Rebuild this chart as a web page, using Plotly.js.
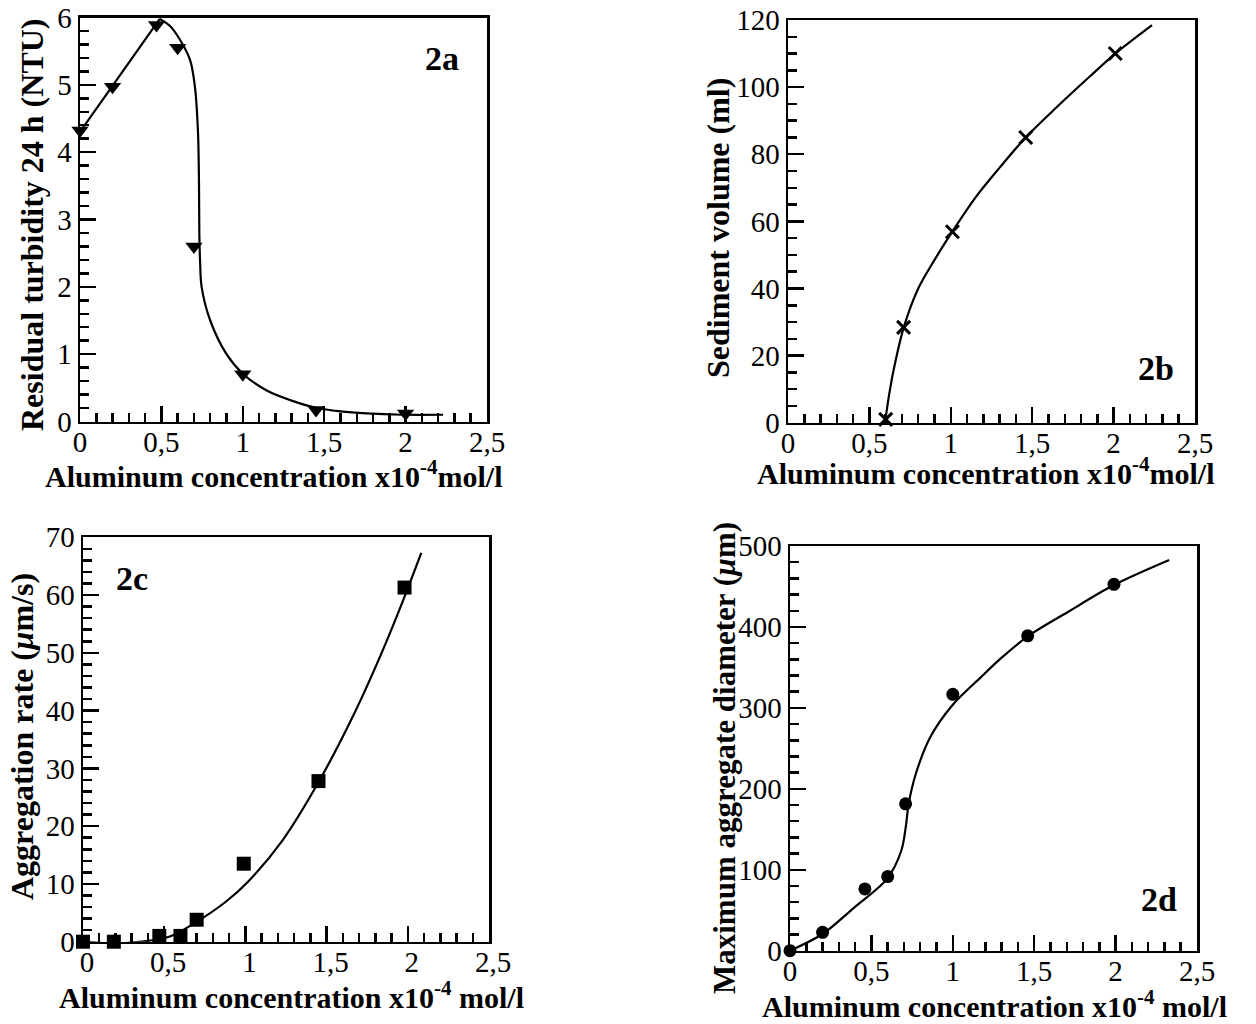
<!DOCTYPE html>
<html>
<head>
<meta charset="utf-8">
<script src="https://cdn.plot.ly/plotly-3.0.1.min.js"></script>
<style>
  html, body { margin: 0; padding: 0; background: #ffffff; }
  #chart { width: 1256px; height: 1024px; }
</style>
</head>
<body>
<div id="chart"></div>
<script>
// ---------- Data ----------
// Panel 2a: residual turbidity 24 h (NTU)
const a_x = [0, 0.2, 0.47, 0.6, 0.7, 1.0, 1.45, 2.0];
const a_y = [4.32, 4.97, 5.89, 5.55, 2.6, 0.7, 0.17, 0.12];
const a_line_x = [0, 0.49];
const a_line_y = [4.3, 5.98];
const a_curve_x = [0.49, 0.55, 0.614, 0.676, 0.706, 0.725, 0.731, 0.733, 0.738, 0.747, 0.8, 0.9, 1.0, 1.147, 1.3, 1.454, 1.6, 1.76, 1.98, 2.23];
const a_curve_y = [5.98, 5.88, 5.67, 5.37, 4.97, 4.28, 3.5, 2.79, 2.35, 2.0, 1.5, 1.0, 0.71, 0.46, 0.31, 0.2, 0.15, 0.12, 0.1, 0.1];

// Panel 2b: sediment volume (ml)
const b_x = [0.6, 0.71, 1.01, 1.46, 2.01];
const b_y = [1, 28.4, 56.9, 85, 110];
const b_curve_x = [0.596, 0.62, 0.65, 0.711, 0.8, 0.9, 1.01, 1.15, 1.3, 1.46, 1.65, 1.85, 2.01, 2.236];
const b_curve_y = [0, 8, 16, 28.4, 40, 48.5, 57, 67, 76, 85, 94, 103, 110, 118.5];

// Panel 2c: aggregation rate (µm/s)
const c_x = [0, 0.19, 0.47, 0.6, 0.7, 0.99, 1.45, 1.98];
const c_y = [0, 0, 1.0, 1.0, 3.8, 13.5, 27.8, 61.3];
const c_curve_x = [0, 0.19, 0.36, 0.535, 0.698, 0.883, 1.013, 1.23, 1.448, 1.665, 1.839, 1.97, 2.083];
const c_curve_y = [0, -0.3, 0, 0.9, 3.4, 7.0, 10.3, 17.6, 27.5, 39.2, 50, 59, 67.3];

// Panel 2d: maximum aggregate diameter (µm)
const d_x = [0, 0.2, 0.46, 0.6, 0.71, 1.0, 1.46, 1.99];
const d_y = [0, 22.7, 76.3, 91.6, 181.5, 316.8, 389, 452.6];
const d_curve_x = [0, 0.2, 0.396, 0.596, 0.684, 0.711, 0.729, 0.773, 0.862, 0.996, 1.173, 1.3, 1.458, 1.707, 1.989, 2.329];
const d_curve_y = [0, 20.6, 53.6, 88.7, 123.8, 152.6, 181.5, 218.6, 264, 303, 338, 362, 388, 418.5, 451.7, 482.7];

// Text
const xTitleA = 'Aluminum concentration x10<sup>-4</sup>mol/l';
const xTitleC = 'Aluminum concentration x10<sup>-4</sup> mol/l';
const yTitles = ['Residual turbidity 24 h (NTU)', 'Sediment volume (ml)',
                 'Aggregation rate (<i>µ</i>m/s)', 'Maximum aggregate diameter (<i>µ</i>m)'];
const panelLabels = ['2a', '2b', '2c', '2d'];

// ---------- Layout helpers ----------
const W = 1256, H = 1024;
const FONT = 'Liberation Serif';
const px = v => v / W;
const py = v => 1 - v / H;

function xax(domL, domR, anchor, range, shift) {
  return {
    domain: [px(domL), px(domR)], anchor: anchor, range: range,
    tick0: 0, dtick: 0.5, ticks: 'inside', ticklen: 16, tickwidth: 2.5, tickcolor: '#000',
    minor: { ticks: 'inside', dtick: 0.1, ticklen: 9, tickwidth: 2.5, tickcolor: '#000', showgrid: false },
    showline: true, linewidth: 2.5, linecolor: '#000', mirror: true,
    showgrid: false, zeroline: false,
    ticklabelstandoff: -7, ticklabelshift: shift || 0,
    tickfont: { family: FONT, size: 29, color: '#000' }
  };
}
function yax(domB, domT, anchor, range, dtick, minor) {
  return {
    domain: [py(domB), py(domT)], anchor: anchor, range: range,
    tick0: 0, dtick: dtick, ticks: 'inside', ticklen: 16, tickwidth: 2.5, tickcolor: '#000',
    minor: { ticks: 'inside', dtick: minor, ticklen: 9, tickwidth: 2.5, tickcolor: '#000', showgrid: false },
    showline: true, linewidth: 2.5, linecolor: '#000', mirror: true,
    showgrid: false, zeroline: false,
    tickfont: { family: FONT, size: 29, color: '#000' }
  };
}

const lineStyle = { color: '#000', width: 2.2 };
const spl = Object.assign({ shape: 'spline', smoothing: 0.9 }, lineStyle);
const traces = [
  // 2a
  { x: a_line_x, y: a_line_y, xaxis: 'x', yaxis: 'y', mode: 'lines', line: lineStyle },
  { x: a_curve_x, y: a_curve_y, xaxis: 'x', yaxis: 'y', mode: 'lines', line: spl },
  { x: a_x, y: a_y, xaxis: 'x', yaxis: 'y', mode: 'markers', marker: { symbol: 'triangle-down', size: 15, color: '#000' }, cliponaxis: false },
  // 2b
  { x: b_curve_x, y: b_curve_y, xaxis: 'x2', yaxis: 'y2', mode: 'lines', line: spl },
  { x: b_x, y: b_y, xaxis: 'x2', yaxis: 'y2', mode: 'markers', marker: { symbol: 'x-thin', size: 13, color: '#000', line: { width: 3, color: '#000' } }, cliponaxis: false },
  // 2c
  { x: c_curve_x, y: c_curve_y, xaxis: 'x3', yaxis: 'y3', mode: 'lines', line: spl },
  { x: c_x, y: c_y, xaxis: 'x3', yaxis: 'y3', mode: 'markers', marker: { symbol: 'square', size: 14, color: '#000' }, cliponaxis: false },
  // 2d
  { x: d_curve_x, y: d_curve_y, xaxis: 'x4', yaxis: 'y4', mode: 'lines', line: spl },
  { x: d_x, y: d_y, xaxis: 'x4', yaxis: 'y4', mode: 'markers', marker: { symbol: 'circle', size: 13, color: '#000' }, cliponaxis: false }
];

const titleFont = { family: FONT, size: 30, color: '#000', weight: 'bold' };
const yTitleFont = { family: FONT, size: 32, color: '#000', weight: 'bold' };
const labelFont = { family: FONT, size: 34, color: '#000', weight: 'bold' };

function ann(text, xPx, yPx, font, opts) {
  return Object.assign({
    text: text, xref: 'paper', yref: 'paper', x: px(xPx), y: py(yPx),
    showarrow: false, font: font, xanchor: 'center', yanchor: 'middle'
  }, opts || {});
}

const annotations = [
  // x-axis titles
  ann(xTitleA, 43, 474, titleFont, { xanchor: 'left' }),
  ann(xTitleA, 755, 471, titleFont, { xanchor: 'left' }),
  ann(xTitleC, 57, 995, titleFont, { xanchor: 'left' }),
  ann(xTitleC, 760, 1004, titleFont, { xanchor: 'left' }),
  // y-axis titles
  ann(yTitles[0], 32, 225, yTitleFont, { textangle: -90 }),
  ann(yTitles[1], 718, 228, yTitleFont, { textangle: -90 }),
  ann(yTitles[2], 22, 737, yTitleFont, { textangle: -90 }),
  ann(yTitles[3], 724, 758, Object.assign({}, yTitleFont, { size: 31 }), { textangle: -90 }),
  // panel labels
  ann(panelLabels[0], 442, 58, labelFont),
  ann(panelLabels[1], 1156, 368, labelFont),
  ann(panelLabels[2], 132, 578, labelFont),
  ann(panelLabels[3], 1159, 899, labelFont)
];

const layout = {
  width: W, height: H,
  margin: { l: 0, r: 0, t: 0, b: 0, pad: 0 },
  paper_bgcolor: '#fff', plot_bgcolor: '#fff',
  showlegend: false,
  separators: ', ',
  font: { family: FONT, color: '#000' },
  xaxis:  xax(80, 487, 'y', [0, 2.5]),
  yaxis:  yax(421.5, 17.5, 'x', [0, 6], 1, 0.2),
  xaxis2: xax(788, 1195, 'y2', [0, 2.5]),
  yaxis2: yax(422.7, 20, 'x2', [0, 120], 20, 5),
  xaxis3: xax(83, 489, 'y3', [0, 2.5], 4),
  yaxis3: yax(941.7, 537.3, 'x3', [0, 70], 10, 2),
  xaxis4: xax(790, 1197, 'y4', [0, 2.5]),
  yaxis4: yax(950.7, 546, 'x4', [0, 500], 100, 20),
  annotations: annotations
};

Plotly.newPlot('chart', traces, layout, { staticPlot: true, displayModeBar: false });
</script>
</body>
</html>
